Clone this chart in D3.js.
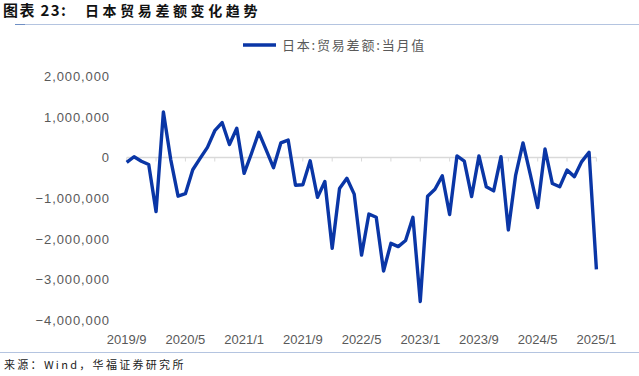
<!DOCTYPE html>
<html><head><meta charset="utf-8">
<script src="https://cdn.jsdelivr.net/npm/d3@7"></script>
<style>
html,body{margin:0;padding:0;background:#fff;}
svg{display:block;}
</style></head>
<body>
<svg id="chart" width="639" height="376"></svg>
<script>
const titleLead = "图表 23:";
const titleMain = "日本贸易差额变化趋势";
const seriesName = "日本:贸易差额:当月值";
const source = "来源：Wind，华福证券研究所";
const months = [
"2019/9","2019/10","2019/11","2019/12","2020/1","2020/2","2020/3","2020/4","2020/5","2020/6","2020/7","2020/8","2020/9","2020/10","2020/11","2020/12",
"2021/1","2021/2","2021/3","2021/4","2021/5","2021/6","2021/7","2021/8","2021/9","2021/10","2021/11","2021/12",
"2022/1","2022/2","2022/3","2022/4","2022/5","2022/6","2022/7","2022/8","2022/9","2022/10","2022/11","2022/12",
"2023/1","2023/2","2023/3","2023/4","2023/5","2023/6","2023/7","2023/8","2023/9","2023/10","2023/11","2023/12",
"2024/1","2024/2","2024/3","2024/4","2024/5","2024/6","2024/7","2024/8","2024/9","2024/10","2024/11","2024/12","2025/1"];
const values = [
-120000, 20000, -90000, -170000, -1330000, 1120000, -50000, -950000, -890000, -300000,
-20000, 250000, 660000, 860000, 320000, 720000, -390000, 100000, 620000, 190000,
-250000, 360000, 430000, -680000, -670000, -80000, -980000, -590000, -2230000, -760000,
-510000, -900000, -2400000, -1390000, -1470000, -2790000, -2110000, -2190000, -2040000, -1470000,
-3540000, -950000, -780000, -450000, -1400000, 40000, -90000, -960000, 40000, -720000,
-820000, 20000, -1780000, -430000, 360000, -420000, -1230000, 210000, -640000, -720000,
-310000, -470000, -100000, 130000, -2750000];
const xTickLabels = ["2019/9","2020/5","2021/1","2021/9","2022/5","2023/1","2023/9","2024/5","2025/1"];
const yTicks = [2000000, 1000000, 0, -1000000, -2000000, -3000000, -4000000];

const svg = d3.select("#chart");
const lineColor = "#0a36a6";
const textColor = "#595959";

// title
const t = svg.append("text").attr("x", 3).attr("y", 16)
  .attr("font-family", "'Noto Sans CJK SC', sans-serif").attr("font-weight", "bold")
  .attr("fill", "#111");
t.append("tspan").attr("font-size", 15).attr("letter-spacing", 1.4).text(titleLead);
t.append("tspan").attr("x", 85).attr("font-size", 14).attr("letter-spacing", 3.6).text(titleMain);
svg.append("line").attr("x1", 15).attr("x2", 639).attr("y1", 24.5).attr("y2", 24.5)
  .attr("stroke", "#b4c4e0").attr("stroke-width", 1);
svg.append("line").attr("x1", 15).attr("x2", 25).attr("y1", 24.5).attr("y2", 24.5)
  .attr("stroke", "#6f8fc4").attr("stroke-width", 1);

const x = d3.scalePoint().domain(months).range([126.7, 596.4]);
const y = d3.scaleLinear().domain([-4000000, 2000000]).range([320.2, 76.2]);

// y labels
const fmt = d3.format(",");
svg.append("g").selectAll("text").data(yTicks).join("text")
  .attr("x", 110).attr("y", d => y(d)).attr("dy", "0.36em")
  .attr("text-anchor", "end").attr("font-family", "'Liberation Sans', Arial, sans-serif")
  .attr("font-size", 13).attr("letter-spacing", 0.9).attr("fill", textColor)
  .text(d => fmt(d));

// zero axis
svg.append("line").attr("x1", x(months[0])).attr("x2", x(months[months.length-1]))
  .attr("y1", y(0)).attr("y2", y(0)).attr("stroke", "#d9d9d9").attr("stroke-width", 1.5);
svg.append("g").selectAll("line").data(months.filter((m,i) => i % 4 === 0)).join("line")
  .attr("x1", d => x(d)).attr("x2", d => x(d)).attr("y1", y(0)).attr("y2", y(0) + 4)
  .attr("stroke", "#d9d9d9").attr("stroke-width", 1);

// x labels
svg.append("g").selectAll("text").data(xTickLabels).join("text")
  .attr("x", d => x(d)).attr("y", 344).attr("text-anchor", "middle")
  .attr("font-family", "'Liberation Sans', Arial, sans-serif").attr("font-size", 13)
  .attr("fill", textColor).text(d => d);

// line
const line = d3.line().x((d, i) => x(months[i])).y(d => y(d)).curve(d3.curveLinear);
svg.append("path").datum(values).attr("d", line).attr("fill", "none")
  .attr("stroke", lineColor).attr("stroke-width", 3.4).attr("stroke-linejoin", "round");

// legend
svg.append("line").attr("x1", 243).attr("x2", 276).attr("y1", 45).attr("y2", 45)
  .attr("stroke", lineColor).attr("stroke-width", 3.5);
svg.append("text").attr("x", 282).attr("y", 50)
  .attr("font-family", "'Noto Sans CJK SC', sans-serif").attr("font-size", 13)
  .attr("letter-spacing", 1.8).attr("fill", textColor).text(seriesName);

// footer
svg.append("line").attr("x1", 0).attr("x2", 639).attr("y1", 352.5).attr("y2", 352.5)
  .attr("stroke", "#b4c4e0").attr("stroke-width", 1);
svg.append("text").attr("x", 4).attr("y", 369)
  .attr("font-family", "'Noto Sans CJK SC', sans-serif").attr("font-size", 11)
  .attr("letter-spacing", 2.3).attr("fill", "#222").text(source);
</script>
</body></html>
